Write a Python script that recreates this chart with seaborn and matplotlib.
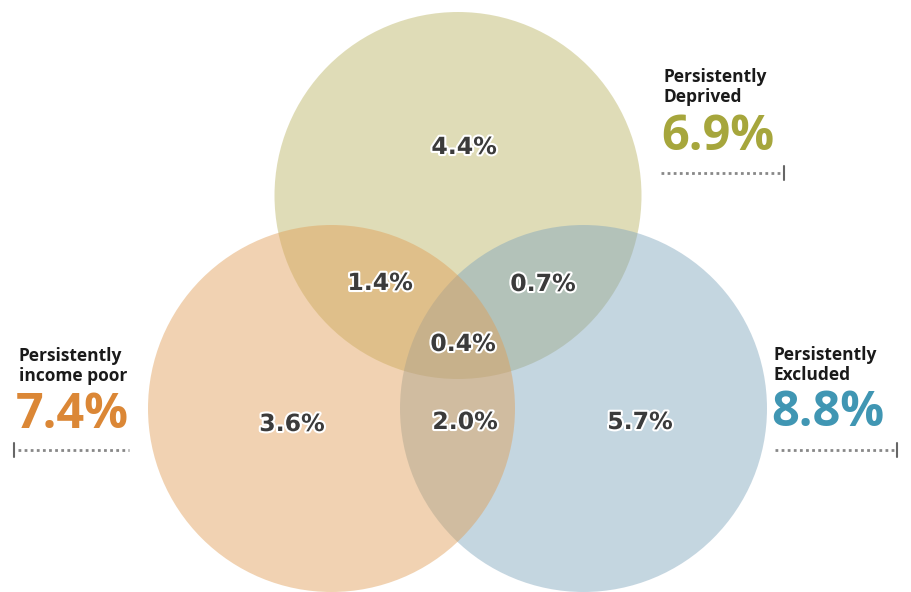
import matplotlib
matplotlib.use("Agg")
import matplotlib.pyplot as plt
import matplotlib.patheffects as pe
from matplotlib.patches import Circle
import seaborn as sns

sns.set_theme(style="white")
plt.rcParams["font.family"] = ["Open Sans", "DejaVu Sans"]

# Groups, their overall shares and circle colours
groups = ["Persistently\nDeprived", "Persistently\nExcluded", "Persistently\nincome poor"]
totals = [6.9, 8.8, 7.4]
fill_colors = ["#bab361", "#7ea4bc", "#e09d54"]
text_colors = ["#a6a63c", "#4096b3", "#db8736"]

# Overlap region shares
region_names = ["deprived only", "deprived+income", "deprived+excluded", "all three",
                "income only", "income+excluded", "excluded only"]
region_values = [4.4, 1.4, 0.7, 0.4, 3.6, 2.0, 5.7]

# layout (pixel-like data coordinates)
centers = [(458, 195.5), (583.5, 408.5), (331.5, 408.5)]
radius = 183.5
region_pos = [(464, 147), (380, 283), (543, 284), (463, 344),
              (292, 424), (465, 422), (640, 422)]

fig = plt.figure(figsize=(9.12, 5.92), dpi=100)
ax = fig.add_axes([0, 0, 1, 1])
ax.set_xlim(0, 912)
ax.set_ylim(592, 0)
ax.set_aspect("equal")
ax.axis("off")

for (cx, cy), col in zip(centers, fill_colors):
    ax.add_patch(Circle((cx, cy), radius, facecolor=col, edgecolor="none", alpha=0.45))

outline = [pe.withStroke(linewidth=3, foreground="white")]
for (x, y), v in zip(region_pos, region_values):
    ax.text(x, y, f"{v:.1f}%", ha="center", va="center", fontsize=17,
            fontweight="bold", color="#3b3b3b", path_effects=outline,
            family="DejaVu Sans")

# side labels: (x of text, y of title, y of value, line x range, tick x, line y)
label_layout = [
    dict(x=664, ty=87, vy=137, lx=(661, 781), tick=784, ly=173),
    dict(x=774, ty=365, vy=414, lx=(775, 894), tick=897, ly=450),
    dict(x=19, ty=366, vy=416, lx=(18, 129), tick=14, ly=450),
]
for g, t, c, L in zip(groups, totals, text_colors, label_layout):
    ax.text(L["x"], L["ty"], g, ha="left", va="center", fontsize=12.5,
            fontweight="bold", color="#1a1a1a", linespacing=1.15)
    ax.text(L["x"] - 3, L["vy"], f"{t:.1f}%", ha="left", va="center", fontsize=35,
            fontweight="bold", color=c)
    ax.plot(L["lx"], [L["ly"], L["ly"]], color="#888888", lw=2, ls=(0, (1, 1.2)))
    ax.plot([L["tick"], L["tick"]], [L["ly"] - 7, L["ly"] + 7], color="#666666", lw=1.5)

fig.savefig("out.png", dpi=100, facecolor="white")
